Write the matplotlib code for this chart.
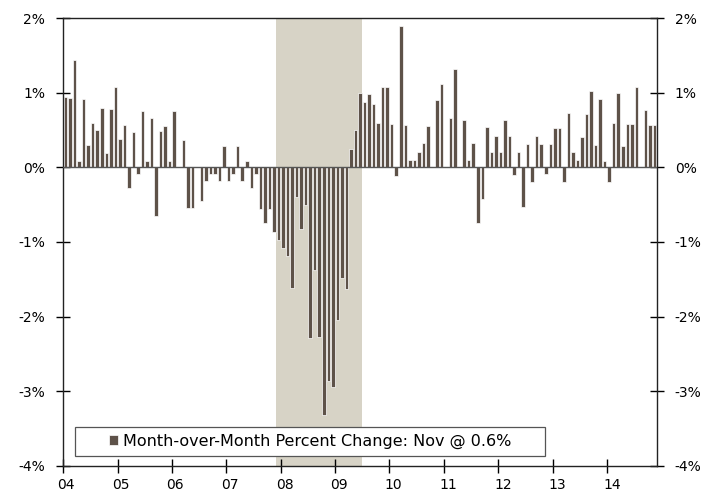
import numpy as np
import matplotlib
matplotlib.use("Agg")
import matplotlib.pyplot as plt
import matplotlib.transforms as mtransforms
from matplotlib.patches import Rectangle

# month-over-month % change, Jan 2004 .. Nov 2014
y2004 = [0.94, 0.93, 1.44, 0.09, 0.91, 0.30, 0.59, 0.50, 0.79, 0.19, 0.78, 1.07]
y2005 = [0.38, 0.57, -0.28, 0.47, -0.09, 0.76, 0.09, 0.66, -0.65, 0.48, 0.56, 0.09]
y2006 = [0.75, 0.0, 0.37, -0.55, -0.55, 0.0, -0.45, -0.18, -0.09, -0.09, -0.18, 0.28]
y2007 = [-0.18, -0.09, 0.28, -0.18, 0.09, -0.28, -0.09, -0.56, -0.75, -0.56, -0.86, -0.97]
y2008 = [-1.08, -1.19, -1.61, -0.40, -0.82, -0.51, -2.29, -1.38, -2.27, -3.32, -2.86, -2.94]
y2009 = [-2.05, -1.48, -1.63, 0.25, 0.50, 1.00, 0.87, 0.98, 0.85, 0.60, 1.08, 1.07]
y2010 = [0.58, -0.11, 1.89, 0.57, 0.10, 0.10, 0.21, 0.33, 0.56, 0.0, 0.90, 1.12]
y2011 = [0.0, 0.66, 1.32, 0.0, 0.64, 0.10, 0.32, -0.75, -0.43, 0.54, 0.21, 0.42]
y2012 = [0.21, 0.63, 0.42, -0.10, 0.21, -0.53, 0.31, -0.20, 0.42, 0.31, -0.09, 0.31]
y2013 = [0.53, 0.53, -0.20, 0.73, 0.21, 0.10, 0.41, 0.72, 1.02, 0.30, 0.91, 0.09]
y2014 = [-0.19, 0.60, 0.99, 0.29, 0.58, 0.58, 1.07, 0.0, 0.77, 0.57, 0.57]

values = y2004 + y2005 + y2006 + y2007 + y2008 + y2009 + y2010 + y2011 + y2012 + y2013 + y2014
year_labels = ["04", "05", "06", "07", "08", "09", "10", "11", "12", "13", "14"]
yticks = [2, 1, 0, -1, -2, -3, -4]
recession = (47, 66)  # Dec 2007 .. Jun 2009 (month index)

bar_col = "#5e5249"
shade_col = "#d7d3c6"

plt.rcParams["font.family"] = "DejaVu Sans"

fig = plt.figure(figsize=(7.19, 4.96), dpi=100)
ax = fig.add_axes([0.088, 0.0605, 0.8254, 0.9032])

x = np.arange(len(values))
ax.axvspan(recession[0] - 0.5, recession[1] - 0.5, color=shade_col, zorder=0, lw=0)
ax.bar(x, values, width=0.78, color=bar_col, edgecolor="white", linewidth=0.5,
       zorder=2, label="Month-over-Month Percent Change: Nov @ 0.6%")
ax.axhline(0, color="#555555", lw=1.0, zorder=3)

ax.set_xlim(-0.5, 130.5)
ax.set_ylim(-4, 2)
ax.set_yticks(yticks)
ax.set_yticklabels([f"{t}%" for t in yticks])
ax.set_xticks([-0.5 + 12 * i for i in range(len(year_labels))])
ax.set_xticklabels(year_labels)

ax.tick_params(axis="y", which="both", left=True, right=True, labelleft=True,
               labelright=True, direction="inout", length=10, width=1,
               pad=8, labelsize=10, colors="black")
ax.tick_params(axis="x", direction="inout", length=10, width=1, pad=4, labelsize=10)
for s in ax.spines.values():
    s.set_color("#222222")
    s.set_linewidth(1)

# year labels sit a little right of the tick in the original
shift = mtransforms.ScaledTranslation(4 / 100, 0, fig.dpi_scale_trans)
for i, lab in enumerate(ax.get_xticklabels()):
    lab.set_transform(lab.get_transform() + mtransforms.ScaledTranslation((3 + 0.2 * i) / 100, 0, fig.dpi_scale_trans))

# legend with its own frame box
box = Rectangle((0.0197, 0.022), 0.7925, 0.065, transform=ax.transAxes,
                facecolor="white", edgecolor="#555555", lw=0.9, zorder=4)
ax.add_patch(box)
leg = ax.legend(loc="center", bbox_to_anchor=(0.4157, 0.0545), frameon=False,
                handlelength=0.6, handleheight=0.6, handletextpad=0.3,
                fontsize=11.5, borderaxespad=0)
leg.set_zorder(5)

fig.savefig("out.png", dpi=100)
